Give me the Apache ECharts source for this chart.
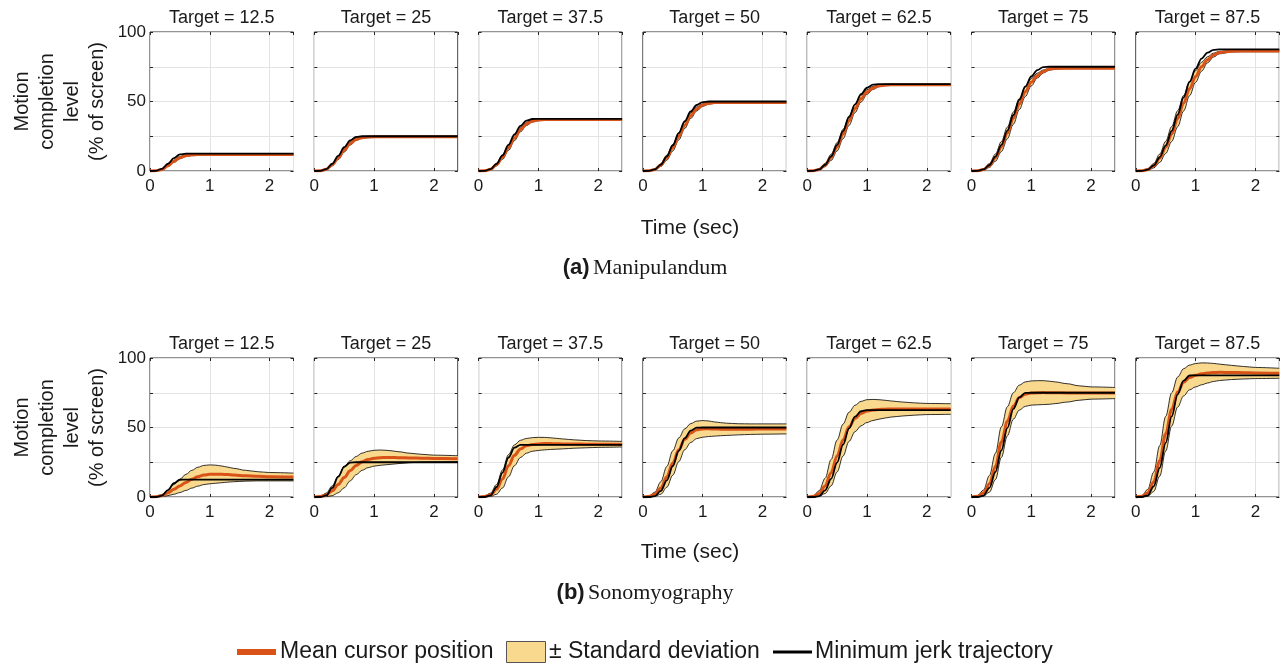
<!DOCTYPE html>
<html>
<head>
<meta charset="utf-8">
<title>Motion completion level</title>
<script src="https://cdn.jsdelivr.net/npm/echarts@6/dist/echarts.min.js"></script>
<style>
  html, body { margin: 0; padding: 0; background: #ffffff; }
  #chart { width: 1288px; height: 666px; }
</style>
</head>
<body>
<div id="chart"></div>
<script>
// Sample times (s)
const TIME = [0, 0.1, 0.2, 0.3, 0.4, 0.5, 0.6, 0.7, 0.8, 0.9, 1.0, 1.1, 1.2, 1.3, 1.4, 1.6, 1.8, 2.0, 2.4];
const TARGETS = [12.5, 25, 37.5, 50, 62.5, 75, 87.5];
const X_TICKS = [0, 1, 2];
const Y_TICK_LABELS = [0, 50, 100];

// (a) Manipulandum
const MANIP_JERK = [
  [0, 0.1, 1.6, 5.2, 9.3, 11.9, 12.5, 12.5, 12.5, 12.5, 12.5, 12.5, 12.5, 12.5, 12.5, 12.5, 12.5, 12.5, 12.5],
  [0, 0.1, 1.4, 5.2, 10.9, 17.1, 22.0, 24.5, 25, 25, 25, 25, 25, 25, 25, 25, 25, 25, 25],
  [0, 0.1, 1.3, 5.1, 11.2, 18.8, 26.3, 32.4, 36.2, 37.4, 37.5, 37.5, 37.5, 37.5, 37.5, 37.5, 37.5, 37.5, 37.5],
  [0, 0.1, 1.2, 4.6, 10.5, 18.4, 27.3, 35.8, 42.8, 47.5, 49.6, 50, 50, 50, 50, 50, 50, 50, 50],
  [0, 0.1, 1.1, 4.5, 10.5, 18.8, 28.7, 38.8, 48.0, 55.3, 59.9, 62.1, 62.5, 62.5, 62.5, 62.5, 62.5, 62.5, 62.5],
  [0, 0.1, 1.1, 4.3, 10.3, 18.8, 29.1, 40.3, 51.2, 60.8, 68.0, 72.6, 74.7, 75, 75, 75, 75, 75, 75],
  [0, 0.1, 1.0, 4.1, 9.9, 18.4, 28.8, 40.6, 52.9, 64.2, 73.7, 80.9, 85.2, 87.2, 87.5, 87.5, 87.5, 87.5, 87.5]
];
const MANIP_MEAN = [
  [0, 0.1, 1.1, 3.8, 7.0, 9.6, 11.0, 11.6, 11.8, 11.9, 11.9, 11.9, 11.9, 11.9, 11.9, 11.9, 11.9, 11.9, 11.9],
  [0, 0.1, 1.2, 4.5, 9.4, 15.0, 19.8, 22.8, 24.0, 24.4, 24.6, 24.6, 24.6, 24.6, 24.6, 24.6, 24.6, 24.6, 24.6],
  [0, 0.1, 1.2, 4.6, 10.0, 16.8, 23.8, 29.8, 33.8, 35.9, 36.7, 37.0, 37.0, 37.0, 37.0, 37.0, 37.0, 37.0, 37.0],
  [0, 0.1, 1.1, 4.3, 9.6, 16.8, 25.0, 33.0, 39.8, 44.6, 47.4, 48.7, 49.2, 49.3, 49.3, 49.3, 49.3, 49.3, 49.3],
  [0, 0.1, 1.1, 4.3, 9.8, 17.4, 26.6, 36.2, 45.0, 52.0, 56.8, 59.8, 61.3, 61.8, 62.0, 62.0, 62.0, 62.0, 62.0],
  [0, 0.1, 1.0, 4.0, 9.6, 17.6, 27.4, 38.0, 48.2, 57.0, 63.8, 68.6, 71.6, 73.2, 73.8, 74.0, 74.0, 74.0, 74.0],
  [0, 0.1, 1.0, 3.8, 9.2, 17.0, 26.6, 37.6, 48.8, 59.2, 68.0, 75.0, 80.0, 83.4, 85.2, 86.2, 86.3, 86.3, 86.3]
];
const MANIP_SD = [
  [0, 0.1, 0.3, 0.6, 0.8, 0.8, 0.6, 0.4, 0.3, 0.3, 0.3, 0.3, 0.3, 0.3, 0.3, 0.3, 0.3, 0.3, 0.3],
  [0, 0.1, 0.4, 0.8, 1.2, 1.4, 1.2, 0.8, 0.5, 0.4, 0.3, 0.3, 0.3, 0.3, 0.3, 0.3, 0.3, 0.3, 0.3],
  [0, 0.1, 0.4, 1.0, 1.6, 2.0, 2.0, 1.6, 1.1, 0.7, 0.5, 0.4, 0.4, 0.4, 0.4, 0.4, 0.4, 0.4, 0.4],
  [0, 0.1, 0.4, 1.0, 1.8, 2.4, 2.6, 2.4, 2.0, 1.4, 0.9, 0.6, 0.5, 0.4, 0.4, 0.4, 0.4, 0.4, 0.4],
  [0, 0.1, 0.5, 1.2, 2.2, 3.0, 3.4, 3.4, 3.0, 2.4, 1.7, 1.1, 0.7, 0.5, 0.4, 0.4, 0.4, 0.4, 0.4],
  [0, 0.1, 0.5, 1.4, 2.6, 3.6, 4.2, 4.4, 4.0, 3.4, 2.6, 1.8, 1.1, 0.7, 0.5, 0.4, 0.4, 0.4, 0.4],
  [0, 0.1, 0.6, 1.6, 3.0, 4.4, 5.4, 5.8, 5.6, 5.0, 4.2, 3.2, 2.2, 1.4, 0.9, 0.6, 0.5, 0.5, 0.5]
];

// (b) Sonomyography
const SONO_JERK = [
  [0, 0, 1.0, 5.0, 9.9, 12.4, 12.5, 12.5, 12.5, 12.5, 12.5, 12.5, 12.5, 12.5, 12.5, 12.5, 12.5, 12.5, 12.5],
  [0, 0, 1.1, 6.5, 14.6, 21.8, 24.8, 25, 25, 25, 25, 25, 25, 25, 25, 25, 25, 25, 25],
  [0, 0, 1.2, 7.2, 17.6, 28.4, 35.5, 37.5, 37.5, 37.5, 37.5, 37.5, 37.5, 37.5, 37.5, 37.5, 37.5, 37.5, 37.5],
  [0, 0, 0.7, 4.4, 12.0, 22.3, 33.2, 42.3, 47.8, 49.9, 50, 50, 50, 50, 50, 50, 50, 50, 50],
  [0, 0, 0.7, 4.8, 13.1, 24.8, 37.7, 49.4, 57.8, 61.7, 62.5, 62.5, 62.5, 62.5, 62.5, 62.5, 62.5, 62.5, 62.5],
  [0, 0, 1.0, 6.6, 18.0, 33.5, 49.7, 63.4, 71.7, 74.9, 75, 75, 75, 75, 75, 75, 75, 75, 75],
  [0, 0, 1.2, 7.7, 21.0, 39.0, 58.0, 73.9, 83.7, 87.4, 87.5, 87.5, 87.5, 87.5, 87.5, 87.5, 87.5, 87.5, 87.5]
];
const SONO_MEAN = [
  [0, 0.2, 1.0, 3.0, 5.5, 8.0, 10.5, 12.8, 14.6, 15.8, 16.3, 16.4, 16.3, 16.1, 15.8, 15.3, 14.9, 14.6, 14.4],
  [0, 0.3, 1.5, 4.5, 9.0, 14.0, 18.8, 22.6, 25.4, 27.0, 27.9, 28.3, 28.4, 28.4, 28.3, 28.1, 27.9, 27.7, 27.6],
  [0, 0.3, 1.6, 5.5, 13.0, 22.5, 30.0, 34.6, 36.8, 37.8, 38.2, 38.4, 38.4, 38.3, 38.2, 38.1, 38.0, 38.0, 38.0],
  [0, 0.3, 2.0, 6.5, 14.5, 24.5, 34.0, 41.5, 46.0, 48.3, 49.0, 49.1, 48.9, 48.8, 48.7, 48.7, 48.8, 48.9, 49.0],
  [0, 0.4, 2.5, 8.0, 17.5, 29.5, 41.0, 50.5, 56.5, 60.0, 61.8, 62.6, 63.0, 63.2, 63.3, 63.3, 63.3, 63.3, 63.3],
  [0, 0.5, 2.8, 9.5, 22.0, 39.5, 54.5, 65.5, 71.5, 74.0, 74.8, 75.0, 75.1, 75.0, 75.0, 74.9, 74.8, 74.8, 74.8],
  [0, 0.5, 3.0, 11.0, 26.0, 45.5, 63.0, 75.5, 82.5, 86.0, 87.6, 88.6, 89.2, 89.6, 89.7, 89.6, 89.4, 89.2, 89.0]
];
const SONO_SD = [
  [0, 0.2, 0.8, 2.0, 3.5, 4.8, 5.8, 6.4, 6.8, 6.9, 6.8, 6.5, 6.0, 5.4, 4.8, 3.9, 3.3, 3.0, 2.8],
  [0, 0.3, 1.3, 3.5, 6.0, 7.4, 7.2, 6.6, 6.2, 5.9, 5.7, 5.5, 5.2, 4.8, 4.3, 3.4, 2.8, 2.4, 2.1],
  [0, 0.3, 1.2, 3.5, 6.5, 8.0, 7.5, 6.2, 5.3, 4.9, 4.7, 4.5, 4.2, 3.9, 3.6, 3.0, 2.6, 2.3, 2.0],
  [0, 0.3, 1.5, 4.5, 7.5, 8.8, 8.5, 7.5, 6.8, 6.3, 6.0, 5.6, 5.1, 4.7, 4.4, 4.0, 3.8, 3.7, 3.6],
  [0, 0.4, 2.0, 5.5, 9.5, 11.5, 11.5, 10.5, 9.5, 8.8, 8.2, 7.6, 7.0, 6.4, 5.8, 5.0, 4.4, 4.0, 3.8],
  [0, 0.5, 2.2, 6.0, 9.5, 11.0, 10.5, 9.5, 9.0, 8.8, 8.7, 8.7, 8.6, 8.3, 7.8, 6.6, 5.2, 4.4, 4.0],
  [0, 0.5, 2.5, 7.0, 11.0, 12.5, 12.0, 10.8, 9.8, 8.9, 8.4, 7.9, 7.2, 6.5, 5.9, 5.1, 4.5, 4.0, 3.6]
];

const ROWS = [
  { jerk: MANIP_JERK, mean: MANIP_MEAN, sd: MANIP_SD, top: 32, caption: '(a)', name: 'Manipulandum', timeY: 228, capY: 268 },
  { jerk: SONO_JERK, mean: SONO_MEAN, sd: SONO_SD, top: 358, caption: '(b)', name: 'Sonomyography', timeY: 552, capY: 593 }
];

const C_MEAN = '#D95319';
const C_FILL = '#F8D98E';
const C_INK = '#1a1a1a';
const SANS = '"Liberation Sans", Arial, Helvetica, sans-serif';
const SERIF = '"Liberation Serif", "Times New Roman", serif';

const PANEL_LEFT = 150, PANEL_STEP = 164.3, PANEL_W = 143.5, PANEL_H = 139;

const grids = [], xAxes = [], yAxes = [], series = [], graphics = [];

// [t, y] pairs for plain lines
function pairs(ys) { return TIME.map((t, k) => [t, ys[k]]); }
// [y, t] rows for the stacked band, so the value column is the one that gets stacked
function yFirst(ys) { return TIME.map((t, k) => [ys[k], t]); }

ROWS.forEach((row, r) => {
  TARGETS.forEach((target, c) => {
    const gi = grids.length;
    const left = PANEL_LEFT + c * PANEL_STEP;
    grids.push({
      left: left, top: row.top, width: PANEL_W, height: PANEL_H,
      show: true, borderColor: '#262626', borderWidth: 1, backgroundColor: '#ffffff'
    });
    const tick = { show: true, inside: true, length: 3, lineStyle: { color: '#262626' } };
    const xBase = {
      type: 'value', gridIndex: gi, min: 0, max: 2.4, interval: 1,
      axisLine: { show: false, onZero: false }, axisTick: tick
    };
    xAxes.push(Object.assign({}, xBase, {
      position: 'bottom',
      axisLabel: {
        show: true, fontFamily: SANS, fontSize: 17, color: C_INK, margin: 7,
        showMaxLabel: false,
        formatter: v => (X_TICKS.indexOf(v) >= 0 ? String(v) : '')
      },
      splitLine: { show: true, lineStyle: { color: '#e3e3e3', width: 1 } }
    }));
    xAxes.push(Object.assign({}, xBase, {
      position: 'top', axisLabel: { show: false }, splitLine: { show: false }
    }));
    const yBase = {
      type: 'value', gridIndex: gi, min: 0, max: 100, interval: 25,
      axisLine: { show: false, onZero: false }, axisTick: tick
    };
    yAxes.push(Object.assign({}, yBase, {
      position: 'left',
      axisLabel: {
        show: c === 0, fontFamily: SANS, fontSize: 17, color: C_INK, margin: 4,
        formatter: v => (Y_TICK_LABELS.indexOf(v) >= 0 ? String(v) : '')
      },
      splitLine: { show: true, lineStyle: { color: '#e3e3e3', width: 1 } }
    }));
    yAxes.push(Object.assign({}, yBase, {
      position: 'right', axisLabel: { show: false }, splitLine: { show: false }
    }));
    const xi = gi * 2, yi = gi * 2;

    const mean = row.mean[c], sd = row.sd[c], jerk = row.jerk[c];
    const lower = mean.map((m, k) => m - sd[k]);
    const upper = mean.map((m, k) => m + sd[k]);
    const width = sd.map(s => 2 * s);
    const common = {
      type: 'line', xAxisIndex: xi, yAxisIndex: yi, showSymbol: false, symbol: 'none',
      smooth: 0.35, smoothMonotone: 'x', silent: true, animation: false
    };
    const stack = 'band' + gi;
    series.push(Object.assign({}, common, {
      name: 'lower' + gi, stack: stack, data: yFirst(lower), encode: { x: 1, y: 0 },
      lineStyle: { width: 0, opacity: 0 }, z: 2
    }));
    series.push(Object.assign({}, common, {
      name: '± Standard deviation', stack: stack, data: yFirst(width), encode: { x: 1, y: 0 },
      lineStyle: { width: 0, opacity: 0 }, areaStyle: { color: C_FILL, opacity: 1 }, z: 2
    }));
    series.push(Object.assign({}, common, {
      name: 'upper edge', data: pairs(upper), lineStyle: { color: '#000', width: 0.8 }, z: 3
    }));
    series.push(Object.assign({}, common, {
      name: 'lower edge', data: pairs(lower), lineStyle: { color: '#000', width: 0.8 }, z: 3
    }));
    series.push(Object.assign({}, common, {
      name: 'Mean cursor position', data: pairs(mean), lineStyle: { color: C_MEAN, width: 3 }, z: 4
    }));
    series.push(Object.assign({}, common, {
      name: 'Minimum jerk trajectory', data: pairs(jerk), lineStyle: { color: '#000', width: 1.8 }, z: 5
    }));

    graphics.push({
      type: 'text', x: left + PANEL_W / 2, y: row.top - 14,
      style: { text: 'Target = ' + target, font: '18px ' + SANS, fill: C_INK, align: 'center', verticalAlign: 'middle' }
    });
  });

  graphics.push({
    type: 'text', x: 60, y: row.top + PANEL_H / 2, rotation: Math.PI / 2,
    style: {
      text: 'Motion\ncompletion\nlevel\n(% of screen)', font: '20px ' + SANS, lineHeight: 25,
      fill: C_INK, align: 'center', verticalAlign: 'middle'
    }
  });
  graphics.push({
    type: 'text', x: 690, y: row.timeY,
    style: { text: 'Time (sec)', font: '21px ' + SANS, fill: C_INK, align: 'center', verticalAlign: 'middle' }
  });
  graphics.push({
    type: 'text', x: 645, y: row.capY,
    style: {
      text: '{b|' + row.caption + '} {t|' + row.name + '}',
      align: 'center', verticalAlign: 'middle', fill: C_INK,
      rich: {
        b: { fontFamily: SANS, fontWeight: 'bold', fontSize: 22, fill: C_INK },
        t: { fontFamily: SERIF, fontSize: 22, fill: C_INK }
      }
    }
  });
});

// Legend row
const LEG_Y = 652;
graphics.push({ type: 'rect', shape: { x: 237, y: LEG_Y - 3, width: 39, height: 6 }, style: { fill: C_MEAN } });
graphics.push({ type: 'text', x: 280, y: LEG_Y, style: { text: 'Mean cursor position', font: '23px ' + SANS, fill: C_INK, align: 'left', verticalAlign: 'middle' } });
graphics.push({ type: 'rect', shape: { x: 506.5, y: 641.5, width: 39, height: 21 }, style: { fill: C_FILL, stroke: '#555', lineWidth: 1 } });
graphics.push({ type: 'text', x: 549, y: LEG_Y, style: { text: '± Standard deviation', font: '23px ' + SANS, fill: C_INK, align: 'left', verticalAlign: 'middle' } });
graphics.push({ type: 'rect', shape: { x: 773, y: LEG_Y - 1.5, width: 39, height: 3 }, style: { fill: '#000' } });
graphics.push({ type: 'text', x: 815, y: LEG_Y, style: { text: 'Minimum jerk trajectory', font: '23px ' + SANS, fill: C_INK, align: 'left', verticalAlign: 'middle' } });

const chart = echarts.init(document.getElementById('chart'), null, { renderer: 'canvas' });
chart.setOption({
  animation: false,
  backgroundColor: '#ffffff',
  grid: grids,
  xAxis: xAxes,
  yAxis: yAxes,
  series: series,
  graphic: graphics
});
</script>
</body>
</html>
